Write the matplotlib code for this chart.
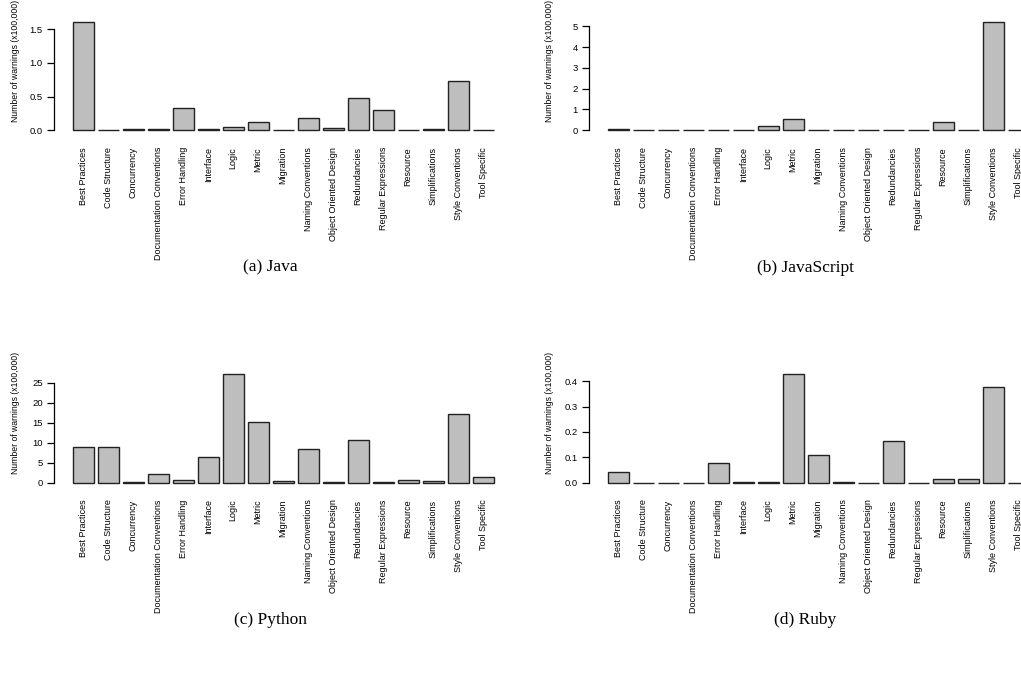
import numpy as np
import matplotlib.pyplot as plt

categories = ["Best Practices", "Code Structure", "Concurrency", "Documentation Conventions",
              "Error Handling", "Interface", "Logic", "Metric", "Migration",
              "Naming Conventions", "Object Oriented Design", "Redundancies",
              "Regular Expressions", "Resource", "Simplifications", "Style Conventions",
              "Tool Specific"]

# warnings per category, in units of 100,000
java = [1.61, 0.002, 0.018, 0.012, 0.336, 0.02, 0.045, 0.12, 0.004, 0.187, 0.04,
        0.475, 0.306, 0.01, 0.025, 0.732, 0.003]
javascript = [0.08, 0.005, 0.004, 0.004, 0.004, 0.004, 0.21, 0.545, 0.004, 0.004, 0.004,
              0.01, 0.004, 0.385, 0.004, 5.21, 0.004]
python = [9.0, 8.8, 0.05, 2.16, 0.58, 6.3, 27.05, 15.27, 0.3, 8.47, 0.05,
          10.6, 0.05, 0.55, 0.3, 17.1, 1.33]
ruby = [0.0405, 0.0005, 0.0005, 0.0005, 0.077, 0.001, 0.001, 0.4275, 0.11, 0.004, 0.0005,
        0.166, 0.0005, 0.015, 0.013, 0.379, 0.0005]

yticks_java = [0.0, 0.5, 1.0, 1.5]
yticks_js = [0, 1, 2, 3, 4, 5]
yticks_py = [0, 5, 10, 15, 20, 25]
yticks_rb = [0.0, 0.1, 0.2, 0.3, 0.4]

W, H = 1021, 673
fig = plt.figure(figsize=(W / 100, H / 100), dpi=100)


def panel(x0, y0, values, ticks, fmt, caption):
    # x0, y0: left / top pixel of the plot region
    left, right, top, bottom = x0, x0 + 458.7, y0, y0 + 117
    ax = fig.add_axes([left / W, 1 - bottom / H, (right - left) / W, (bottom - top) / H])
    x = np.arange(len(values))
    ax.bar(x, values, width=0.833, color="#bebebe", edgecolor="#222222", linewidth=1.0)
    m = max(values)
    ax.set_ylim(-0.04 * m, 1.04 * m)
    ax.set_xlim(-1.164, 17.18)
    for s in ["top", "right", "bottom"]:
        ax.spines[s].set_visible(False)
    ax.spines["left"].set_bounds(ticks[0], ticks[-1])
    ax.spines["left"].set_linewidth(0.9)
    ax.set_yticks(ticks)
    ax.set_yticklabels([fmt.format(t) for t in ticks], fontsize=6.8, family="Liberation Sans")
    ax.tick_params(axis="y", length=5, width=0.9, pad=3)
    ax.set_xticks(x)
    ax.set_xticklabels(categories, rotation=90, fontsize=6.5, family="Liberation Sans")
    ax.tick_params(axis="x", length=0, pad=9)
    ax.patch.set_visible(False)
    fig.text((x0 - 39) / W, 1 - (y0 + 43) / H, "Number of warnings (x100,000)",
             rotation=90, ha="center", va="center", fontsize=6.2, family="Liberation Sans")
    fig.text((x0 + 216) / W, 1 - (y0 + 250) / H, caption, ha="center", va="center",
             fontsize=12.5, family="Liberation Serif")


panel(54, 17.6, java, yticks_java, "{:.1f}", "(a) Java")
panel(589, 17.6, javascript, yticks_js, "{:d}", "(b) JavaScript")
panel(54, 370, python, yticks_py, "{:d}", "(c) Python")
panel(589, 370, ruby, yticks_rb, "{:.1f}", "(d) Ruby")

fig.savefig("out.png", dpi=100)
